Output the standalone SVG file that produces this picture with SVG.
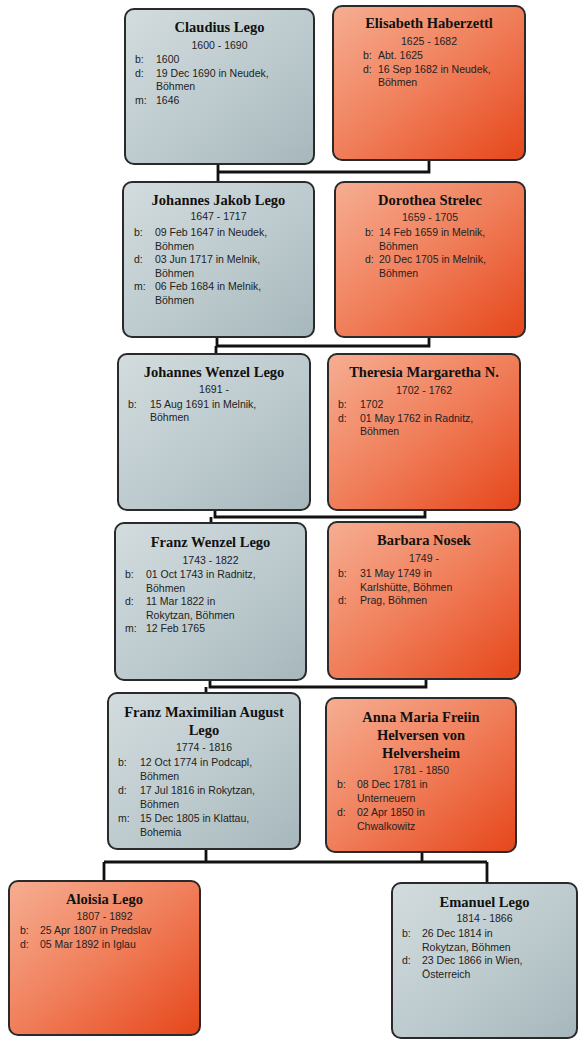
<svg xmlns="http://www.w3.org/2000/svg" width="579" height="1039" viewBox="0 0 579 1039">
<defs>
<linearGradient id="gm" x1="0" y1="0" x2="1" y2="1">
<stop offset="0" stop-color="#d3dcdf"/>
<stop offset="0.55" stop-color="#bccacd"/>
<stop offset="1" stop-color="#a6b7bb"/>
</linearGradient>
<linearGradient id="gf" x1="0" y1="0" x2="1" y2="1">
<stop offset="0" stop-color="#f6ae92"/>
<stop offset="0.5" stop-color="#f07e5a"/>
<stop offset="1" stop-color="#e6461a"/>
</linearGradient>
<style>
.m{fill:url(#gm);stroke:#2a2a2a;stroke-width:2}
.f{fill:url(#gf);stroke:#2a2a2a;stroke-width:2}
.n{font-family:"Liberation Serif",serif;font-weight:bold;font-size:14.5px;fill:#111;text-anchor:middle}
.d{font-family:"Liberation Sans",sans-serif;font-size:10.5px;fill:#222;text-anchor:middle}
.t{font-family:"Liberation Sans",sans-serif;font-size:10.5px;fill:#222}
.c{fill:none;stroke:#111;stroke-width:2.8}
</style>
</defs>
<g id="connectors">
<path class="c" d="M218,164 V172 H429 V160 M218,172 V182"/>
<path class="c" d="M217,337 V346 H429 V337 M216,346 V354"/>
<path class="c" d="M215,510 V517 H425 V510 M211,517 V523"/>
<path class="c" d="M210,680 V687 H426 V679 M206,687 V693"/>
<path class="c" d="M206,849 V862 M422,852 V862 M104,862 H487 M104,862 V881 M487,862 V883"/>
</g>
<g id="claudius">
<rect class="m" x="125" y="9" width="189" height="155" rx="9"/>
<text class="n" x="219.5" y="32">Claudius Lego</text>
<text class="d" x="219.5" y="49">1600 - 1690</text>
<text class="t" x="135" y="63">b:</text><text class="t" x="156" y="63">1600</text>
<text class="t" x="135" y="76.5">d:</text><text class="t" x="156" y="76.5">19 Dec 1690 in Neudek,</text>
<text class="t" x="156" y="90">Böhmen</text>
<text class="t" x="135" y="103.5">m:</text><text class="t" x="156" y="103.5">1646</text>
</g>
<g id="elisabeth">
<rect class="f" x="333" y="6" width="192" height="154" rx="9"/>
<text class="n" x="429" y="28">Elisabeth Haberzettl</text>
<text class="d" x="429" y="45">1625 - 1682</text>
<text class="t" x="363" y="59">b:</text><text class="t" x="378" y="59">Abt. 1625</text>
<text class="t" x="363" y="72.5">d:</text><text class="t" x="378" y="72.5">16 Sep 1682 in Neudek,</text>
<text class="t" x="378" y="86">Böhmen</text>
</g>
<g id="johannes-jakob">
<rect class="m" x="123" y="182" width="191" height="155" rx="9"/>
<text class="n" x="218.5" y="205">Johannes Jakob Lego</text>
<text class="d" x="218.5" y="220">1647 - 1717</text>
<text class="t" x="134" y="236">b:</text><text class="t" x="155" y="236">09 Feb 1647 in Neudek,</text>
<text class="t" x="155" y="249.5">Böhmen</text>
<text class="t" x="134" y="263">d:</text><text class="t" x="155" y="263">03 Jun 1717 in Melnik,</text>
<text class="t" x="155" y="276.5">Böhmen</text>
<text class="t" x="134" y="290">m:</text><text class="t" x="155" y="290">06 Feb 1684 in Melnik,</text>
<text class="t" x="155" y="303.5">Böhmen</text>
</g>
<g id="dorothea">
<rect class="f" x="335" y="182" width="190" height="155" rx="9"/>
<text class="n" x="430" y="205">Dorothea Strelec</text>
<text class="d" x="430" y="221">1659 - 1705</text>
<text class="t" x="365" y="236">b:</text><text class="t" x="379" y="236">14 Feb 1659 in Melnik,</text>
<text class="t" x="379" y="249.5">Böhmen</text>
<text class="t" x="365" y="263">d:</text><text class="t" x="379" y="263">20 Dec 1705 in Melnik,</text>
<text class="t" x="379" y="276.5">Böhmen</text>
</g>
<g id="johannes-wenzel">
<rect class="m" x="118" y="354" width="192" height="156" rx="9"/>
<text class="n" x="214" y="377">Johannes Wenzel Lego</text>
<text class="d" x="214" y="393">1691 -</text>
<text class="t" x="128" y="408">b:</text><text class="t" x="150" y="408">15 Aug 1691 in Melnik,</text>
<text class="t" x="150" y="421">Böhmen</text>
</g>
<g id="theresia">
<rect class="f" x="328" y="354" width="192" height="156" rx="9"/>
<text class="n" x="424" y="377">Theresia Margaretha N.</text>
<text class="d" x="424" y="394">1702 - 1762</text>
<text class="t" x="338" y="408">b:</text><text class="t" x="360" y="408">1702</text>
<text class="t" x="338" y="421.5">d:</text><text class="t" x="360" y="421.5">01 May 1762 in Radnitz,</text>
<text class="t" x="360" y="435">Böhmen</text>
</g>
<g id="franz-wenzel">
<rect class="m" x="115" y="523" width="191" height="157" rx="9"/>
<text class="n" x="210.5" y="547">Franz Wenzel Lego</text>
<text class="d" x="210.5" y="564">1743 - 1822</text>
<text class="t" x="125" y="578">b:</text><text class="t" x="146" y="578">01 Oct 1743 in Radnitz,</text>
<text class="t" x="146" y="591.5">Böhmen</text>
<text class="t" x="125" y="605">d:</text><text class="t" x="146" y="605">11 Mar 1822 in</text>
<text class="t" x="146" y="618.5">Rokytzan, Böhmen</text>
<text class="t" x="125" y="632">m:</text><text class="t" x="146" y="632">12 Feb 1765</text>
</g>
<g id="barbara">
<rect class="f" x="328" y="522" width="192" height="157" rx="9"/>
<text class="n" x="424" y="545">Barbara Nosek</text>
<text class="d" x="424" y="562">1749 -</text>
<text class="t" x="338" y="577">b:</text><text class="t" x="360" y="577">31 May 1749 in</text>
<text class="t" x="360" y="590.5">Karlshütte, Böhmen</text>
<text class="t" x="338" y="604">d:</text><text class="t" x="360" y="604">Prag, Böhmen</text>
</g>
<g id="franz-maximilian">
<rect class="m" x="108" y="693" width="192" height="156" rx="9"/>
<text class="n" x="204" y="717">Franz Maximilian August</text>
<text class="n" x="204" y="735">Lego</text>
<text class="d" x="204" y="751">1774 - 1816</text>
<text class="t" x="118" y="766">b:</text><text class="t" x="140" y="766">12 Oct 1774 in Podcapl,</text>
<text class="t" x="140" y="780">Böhmen</text>
<text class="t" x="118" y="794">d:</text><text class="t" x="140" y="794">17 Jul 1816 in Rokytzan,</text>
<text class="t" x="140" y="808">Böhmen</text>
<text class="t" x="118" y="822">m:</text><text class="t" x="140" y="822">15 Dec 1805 in Klattau,</text>
<text class="t" x="140" y="836">Bohemia</text>
</g>
<g id="anna-maria">
<rect class="f" x="326" y="698" width="190" height="154" rx="9"/>
<text class="n" x="421" y="722">Anna Maria Freiin</text>
<text class="n" x="421" y="740">Helversen von</text>
<text class="n" x="421" y="758">Helversheim</text>
<text class="d" x="421" y="774">1781 - 1850</text>
<text class="t" x="337" y="788">b:</text><text class="t" x="357" y="788">08 Dec 1781 in</text>
<text class="t" x="357" y="802">Unterneuern</text>
<text class="t" x="337" y="816">d:</text><text class="t" x="357" y="816">02 Apr 1850 in</text>
<text class="t" x="357" y="830">Chwalkowitz</text>
</g>
<g id="aloisia">
<rect class="f" x="9" y="881" width="191" height="154" rx="9"/>
<text class="n" x="104.5" y="904">Aloisia Lego</text>
<text class="d" x="104.5" y="920">1807 - 1892</text>
<text class="t" x="20" y="934">b:</text><text class="t" x="40" y="934">25 Apr 1807 in Predslav</text>
<text class="t" x="20" y="948">d:</text><text class="t" x="40" y="948">05 Mar 1892 in Iglau</text>
</g>
<g id="emanuel">
<rect class="m" x="392" y="883" width="185" height="155" rx="9"/>
<text class="n" x="484.5" y="907">Emanuel Lego</text>
<text class="d" x="484.5" y="922">1814 - 1866</text>
<text class="t" x="402" y="937">b:</text><text class="t" x="422" y="937">26 Dec 1814 in</text>
<text class="t" x="422" y="950.5">Rokytzan, Böhmen</text>
<text class="t" x="402" y="964">d:</text><text class="t" x="422" y="964">23 Dec 1866 in Wien,</text>
<text class="t" x="422" y="977.5">Österreich</text>
</g>
</svg>
